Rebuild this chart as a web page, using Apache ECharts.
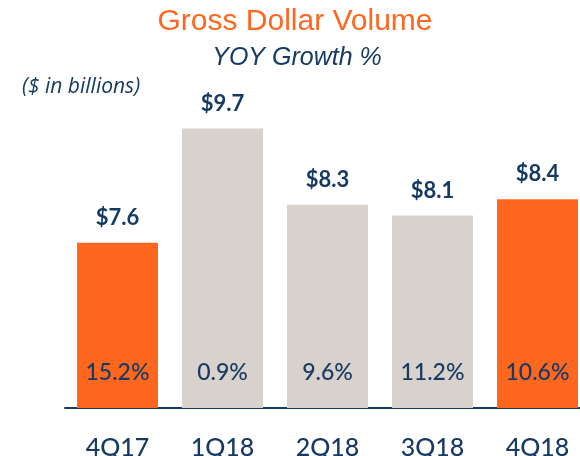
<!DOCTYPE html>
<html>
<head>
<meta charset="utf-8">
<title>Gross Dollar Volume</title>
<script src="https://cdn.jsdelivr.net/npm/echarts@6/dist/echarts.min.js"></script>
<style>
    html, body { margin: 0; padding: 0; background: #fff; }
    #chart { width: 580px; height: 456px; }
</style>
</head>
<body>
<div id="chart"></div>
<script>
    // 季度数据
    var quarters = ['4Q17', '1Q18', '2Q18', '3Q18', '4Q18'];
    var volume = [7.6, 9.7, 8.3, 8.1, 8.4];       // $ in billions
    var growth = ['15.2%', '0.9%', '9.6%', '11.2%', '10.6%'];
    var highlight = [true, false, false, false, true];

    var orange = '#FF671F';
    var grey = '#D9D2CC';
    var navy = '#163A63';

    var chart = echarts.init(document.getElementById('chart'));

    var barData = volume.map(function (v, i) {
        return { value: v, itemStyle: { color: highlight[i] ? orange : grey } };
    });

    var option = {
        animation: false,
        textStyle: { fontFamily: 'Lato' },
        title: [
            { text: 'Gross Dollar Volume', left: 290, top: 2, textAlign: 'center',
              textStyle: { color: orange, fontSize: 30, fontWeight: 'normal', fontFamily: 'Liberation Sans' } },
            { text: 'YOY Growth %', left: 292, top: 41, textAlign: 'center',
              textStyle: { color: navy, fontSize: 25, fontStyle: 'italic', fontWeight: 'normal', fontFamily: 'Liberation Sans' } },
            { text: '($ in billions)', left: 17, top: 72,
              textStyle: { color: navy, fontSize: 21, fontStyle: 'italic', fontWeight: 500, fontFamily: 'Open Sans' } }
        ],
        // 右侧柱子超出画布被裁掉
        grid: { left: 65, width: 525, top: 85, bottom: 48, outerBoundsMode: 'none', containLabel: false },
        xAxis: {
            type: 'category',
            data: quarters,
            axisLine: { lineStyle: { color: navy, width: 2 } },
            axisTick: { show: false },
            axisLabel: { color: navy, fontSize: 25, margin: 27, fontWeight: 500, fontFamily: 'Lato' }
        },
        yAxis: {
            type: 'value',
            min: 4.56,
            max: 10.5,
            show: false,
            splitLine: { show: false }
        },
        series: [
            {
                type: 'bar',
                data: barData,
                barWidth: 81,
                label: {
                    show: true,
                    position: 'top',
                    distance: 14,
                    color: navy,
                    fontSize: 22,
                    fontWeight: 'bold',
                    fontFamily: 'Lato',
                    formatter: function (p) { return '$' + p.value.toFixed(1); }
                }
            },
            {
                // 增长率标签
                type: 'bar',
                data: volume,
                barWidth: 81,
                barGap: '-100%',
                z: 5,
                itemStyle: { color: 'rgba(0,0,0,0)' },
                label: {
                    show: true,
                    position: 'insideBottom',
                    distance: 24,
                    color: navy,
                    fontSize: 23,
                    fontWeight: 500,
                    fontFamily: 'Lato',
                    formatter: function (p) { return growth[p.dataIndex]; }
                }
            }
        ]
    };
    chart.setOption(option);
</script>
</body>
</html>
